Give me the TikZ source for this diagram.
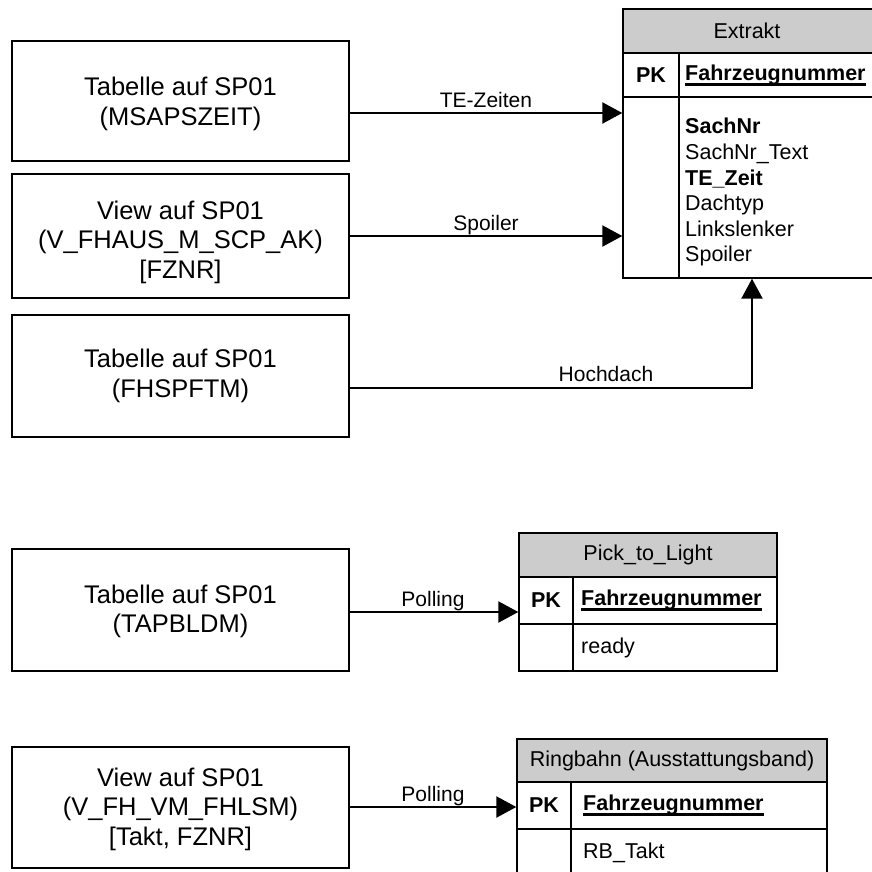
\documentclass[tikz,border=0pt]{standalone}
\usepackage{fontspec}
\setmainfont{Liberation Sans}
\usetikzlibrary{arrows.meta}

% bold key field with a heavy underline
\newcommand{\keyname}[1]{\setbox0=\hbox{\bfseries #1}\rlap{\rule[-5.5pt]{\wd0}{2.6pt}}\box0}

\begin{document}
\begin{tikzpicture}[x=1pt,y=-1pt,
  srcbox/.style={draw, line width=1.4pt, minimum width=337pt, inner sep=0pt},
  srctxt/.style={align=center, inner sep=0pt, font=\fontsize{25.5}{29.5}\selectfont},
  cell/.style={draw, line width=1.4pt, inner sep=0pt},
  hdr/.style={cell, fill=black!20},
  tabtxt/.style={inner sep=0pt, font=\fontsize{21.5}{25.5}\selectfont},
  pktxt/.style={tabtxt, font=\fontsize{21.5}{25.5}\selectfont\bfseries},
  lbl/.style={inner sep=0pt, font=\fontsize{21}{25}\selectfont},
  flow/.style={line width=2.3pt, -{Triangle[length=20pt,width=21pt]}}
]
\useasboundingbox (0,0) rectangle (871,872);

% ---------- source boxes ----------
\node[srcbox, minimum height=120pt] (msap) at (180.5,101) {};
\node[srctxt] (msapT) at ([yshift=-3pt]msap.center) {Tabelle auf SP01\\(MSAPSZEIT)};
\node[srcbox, minimum height=124pt] (fhaus) at (180.5,236) {};
\node[srctxt] (fhausT) at ([yshift=-6pt]fhaus.center) {View auf SP01\\(V\_FHAUS\_M\_SCP\_AK)\\{}[FZNR]};
\node[srcbox, minimum height=122pt] (fhspf) at (180.5,376) {};
\node[srctxt] (fhspfT) at (fhspf.center) {Tabelle auf SP01\\(FHSPFTM)};
\node[srcbox, minimum height=122pt] (tapb) at (180.5,610) {};
\node[srctxt] (tapbT) at ([yshift=-1.5pt]tapb.center) {Tabelle auf SP01\\(TAPBLDM)};
\node[srcbox, minimum height=121pt] (fhlsm) at (180.5,807.5) {};
\node[srctxt] (fhlsmT) at ([yshift=-1.5pt]fhlsm.center) {View auf SP01\\(V\_FH\_VM\_FHLSM)\\{}[Takt, FZNR]};

% ---------- table: Extrakt ----------
\node[hdr, minimum width=256pt, minimum height=44pt] (exHead) at (751,31) {};
\node[cell, minimum width=56pt, minimum height=44pt] (exPK) at (651,75) {};
\node[cell, minimum width=200pt, minimum height=44pt] (exKey) at (779,75) {};
\node[cell, minimum width=56pt, minimum height=181pt] (exGap) at (651,187.5) {};
\node[cell, minimum width=200pt, minimum height=181pt] (exAttr) at (779,187.5) {};
\node[tabtxt] (exTitle) at (747,31) {Extrakt};
\node[pktxt] (exPKt) at (exPK.center) {PK};
\node[tabtxt, anchor=west] (exKeyt) at (685,75) {\keyname{Fahrzeugnummer}};
\node[tabtxt, anchor=base west] (exA1) at (685,134) {\bfseries SachNr};
\node[tabtxt, anchor=base west] (exA2) at (685,159.5) {SachNr\_Text};
\node[tabtxt, anchor=base west] (exA3) at (685,185) {\bfseries TE\_Zeit};
\node[tabtxt, anchor=base west] (exA4) at (685,210.5) {Dachtyp};
\node[tabtxt, anchor=base west] (exA5) at (685,236) {Linkslenker};
\node[tabtxt, anchor=base west] (exA6) at (685,261.5) {Spoiler};

% ---------- table: Pick_to_Light ----------
\node[hdr, minimum width=258pt, minimum height=44pt] (ptHead) at (648,555) {};
\node[cell, minimum width=54pt, minimum height=47pt] (ptPK) at (546,600.5) {};
\node[cell, minimum width=204pt, minimum height=47pt] (ptKey) at (675,600.5) {};
\node[cell, minimum width=54pt, minimum height=47pt] (ptGap) at (546,647.5) {};
\node[cell, minimum width=204pt, minimum height=47pt] (ptAttr) at (675,647.5) {};
\node[tabtxt] (ptTitle) at (ptHead.center) {Pick\_to\_Light};
\node[pktxt] (ptPKt) at (ptPK.center) {PK};
\node[tabtxt, anchor=west] (ptKeyt) at (581,600.5) {\keyname{Fahrzeugnummer}};
\node[tabtxt, anchor=west] (ptA1) at (581,647.5) {ready};

% ---------- table: Ringbahn ----------
\node[hdr, minimum width=310pt, minimum height=43pt] (rbHead) at (672,760.5) {};
\node[cell, minimum width=54pt, minimum height=47pt] (rbPK) at (544,805.5) {};
\node[cell, minimum width=256pt, minimum height=47pt] (rbKey) at (699,805.5) {};
\node[cell, minimum width=54pt, minimum height=47pt] (rbGap) at (544,852.5) {};
\node[cell, minimum width=256pt, minimum height=47pt] (rbAttr) at (699,852.5) {};
\node[tabtxt] (rbTitle) at (rbHead.center) {Ringbahn (Ausstattungsband)};
\node[pktxt] (rbPKt) at (rbPK.center) {PK};
\node[tabtxt, anchor=west] (rbKeyt) at (583,805.5) {\keyname{Fahrzeugnummer}};
\node[tabtxt, anchor=west] (rbA1) at (583,852.5) {RB\_Takt};

% ---------- connectors ----------
\coordinate (teIn) at (exGap.west |- 0,113);
\coordinate (spIn) at (exGap.west |- 0,236);
\coordinate (hdTurn) at (752,388);
\coordinate (ptIn) at (ptPK.west |- 0,612);
\coordinate (rbIn) at (rbPK.west |- 0,807);

\draw[flow] (teIn -| msap.east) -- (teIn);
\draw[flow] (spIn -| fhaus.east) -- (spIn);
\draw[flow] (hdTurn -| fhspf.east) -- (hdTurn) -- (hdTurn |- exAttr.south);
\draw[flow] (ptIn -| tapb.east) -- (ptIn);
\draw[flow] (rbIn -| fhlsm.east) -- (rbIn);

\node[lbl, anchor=base] (lTE) at (486,107) {TE-Zeiten};
\node[lbl, anchor=base] (lSp) at (486,230) {Spoiler};
\node[lbl, anchor=base] (lHd) at (606,381) {Hochdach};
\node[lbl, anchor=base] (lP1) at (433,606) {Polling};
\node[lbl, anchor=base] (lP2) at (433,801) {Polling};
\end{tikzpicture}
\end{document}
